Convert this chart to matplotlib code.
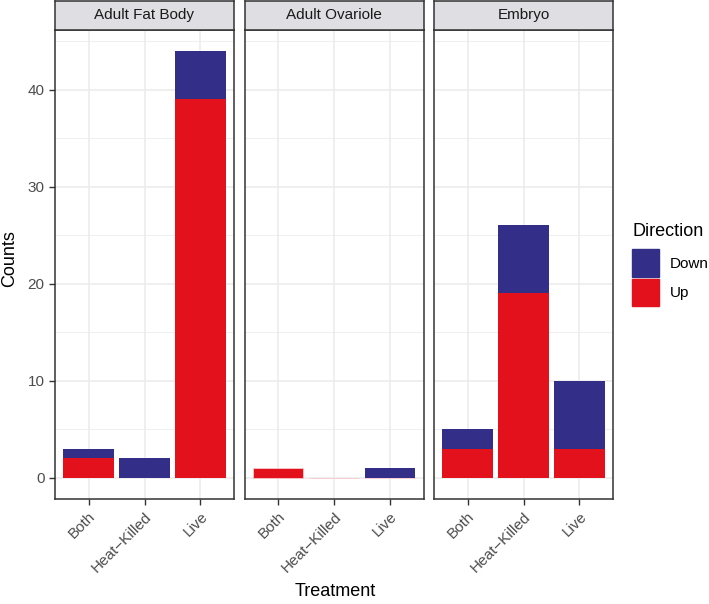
import numpy as np
import matplotlib.pyplot as plt
from matplotlib.patches import Rectangle

plt.rcParams['font.family'] = ['Liberation Sans', 'DejaVu Sans']

tissues = ['Adult Fat Body', 'Adult Ovariole', 'Embryo']
treatments = ['Both', 'Heat\u2212Killed', 'Live']
up = [[2, 0, 39], [1, 0, 0], [3, 19, 3]]
down = [[1, 2, 5], [0, 0, 1], [2, 7, 7]]

col_down = '#332E88'
col_up = '#E3111C'
grid_col = '#EBEBEB'
text_col = '#4D4D4D'

W, H = 709, 604
fig = plt.figure(figsize=(W / 100, H / 100), dpi=100)

def px(x0, y0, x1, y1):
    return [x0 / W, 1 - y1 / H, (x1 - x0) / W, (y1 - y0) / H]

lefts = [55, 244.5, 434]
pw = 179
for i, t in enumerate(tissues):
    x0 = lefts[i]
    ax = fig.add_axes(px(x0, 29.5, x0 + pw, 499))
    x = np.arange(1, 4)
    ax.bar(x, up[i], width=0.9, color=col_up, zorder=3,
           edgecolor='#F7C9CC' if i == 1 else 'none', linewidth=0.6)
    ax.bar(x, down[i], bottom=up[i], width=0.9, color=col_down, zorder=3,
           edgecolor='none')
    ax.set_xlim(0.4, 3.6)
    ax.set_ylim(-2.2, 46.2)
    ax.set_yticks([0, 10, 20, 30, 40])
    ax.set_yticks([5, 15, 25, 35, 45], minor=True)
    ax.set_xticks(x)
    ax.grid(True, which='major', color=grid_col, linewidth=1.1, zorder=0)
    ax.grid(True, which='minor', axis='y', color=grid_col, linewidth=0.55, zorder=0)
    ax.set_xticklabels(treatments, rotation=45, ha='right', rotation_mode='anchor',
                       fontsize=11, color=text_col)
    ax.tick_params(axis='both', which='major', length=4, color='#333333', width=1)
    ax.tick_params(axis='y', which='minor', length=0)
    if i == 0:
        ax.set_yticklabels(['0', '10', '20', '30', '40'], fontsize=11, color=text_col)
    else:
        ax.tick_params(axis='y', which='major', length=0, labelleft=False)
    for s in ax.spines.values():
        s.set_color('#333333')
        s.set_linewidth(1.1)
    # facet strip
    sax = fig.add_axes(px(x0, 1, x0 + pw, 29.5))
    sax.set_xticks([])
    sax.set_yticks([])
    sax.set_facecolor('#DEDEE3')
    for s in sax.spines.values():
        s.set_color('#333333')
        s.set_linewidth(1.1)
    sax.text(0.5, 0.5, t, ha='center', va='center', fontsize=11, color='#1A1A1A',
             transform=sax.transAxes)

fig.text(10 / W, 1 - 259 / H, 'Counts', rotation=90, ha='center', va='center', fontsize=13)
fig.text(335 / W, 1 - 591 / H, 'Treatment', ha='center', va='center', fontsize=13)

# legend
fig.text(632 / W, 1 - 232 / H, 'Direction', ha='left', va='center', fontsize=13)
fig.patches.append(Rectangle((632 / W, 1 - 277 / H), 27 / W, 28 / H, color=col_down,
                             transform=fig.transFigure, figure=fig))
fig.patches.append(Rectangle((632 / W, 1 - 306 / H), 27 / W, 27 / H, color=col_up,
                             transform=fig.transFigure, figure=fig))
fig.text(670 / W, 1 - 264 / H, 'Down', ha='left', va='center', fontsize=11)
fig.text(670 / W, 1 - 293 / H, 'Up', ha='left', va='center', fontsize=11)

fig.savefig('out.png', dpi=100)
